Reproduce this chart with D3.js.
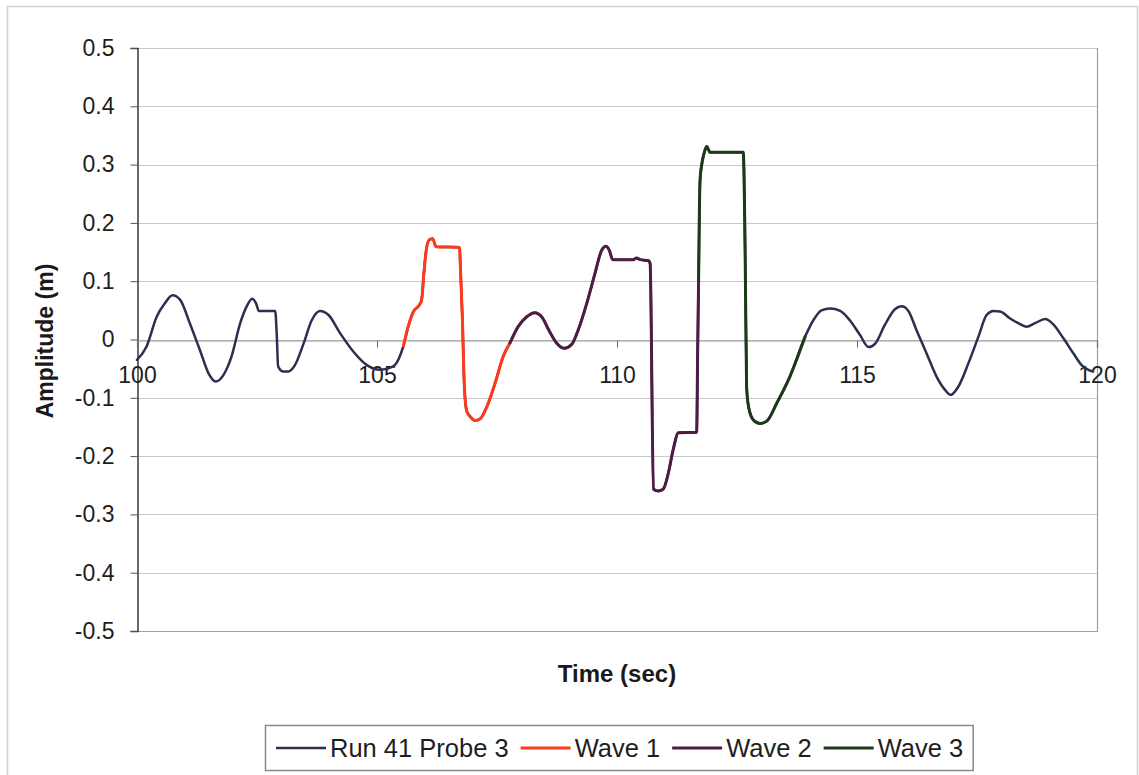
<!DOCTYPE html>
<html>
<head>
<meta charset="utf-8">
<script src="https://cdn.jsdelivr.net/npm/d3@7"></script>
<style>
  html, body { margin: 0; padding: 0; background: #fff; }
  svg { display: block; font-family: "Liberation Sans", Arial, sans-serif; }
</style>
</head>
<body>
<svg id="chart" width="1139" height="775"></svg>
<script>
// ---- Data ----
const probeTime = [100.00,100.20,100.41,100.58,100.74,100.90,101.10,101.31,101.49,101.64,101.80,101.97,102.15,102.28,102.40,102.48,102.54,102.88,102.91,102.94,103.05,103.15,103.29,103.47,103.64,103.81,103.99,104.23,104.51,104.79,105.06,105.34,105.55,
  105.65,105.76,105.88,105.93,105.97,106.02,106.09,106.16,106.23,106.72,106.74,106.78,106.82,106.87,106.94,107.04,107.15,107.29,107.46,107.63,107.77,
  107.94,108.12,108.29,108.43,108.60,108.74,108.90,109.06,109.19,109.37,109.54,109.68,109.77,109.84,109.91,110.34,110.41,110.48,110.66,110.69,110.76,110.86,110.96,111.07,111.17,111.28,111.66,111.68,111.70,
  111.73,111.78,111.83,111.87,111.94,112.63,112.67,112.70,112.74,112.84,112.98,113.12,113.33,113.60,113.92,
  114.09,114.26,114.44,114.65,114.85,115.06,115.24,115.38,115.58,115.79,115.93,116.07,116.24,116.45,116.66,116.83,116.95,117.11,117.32,117.53,117.70,117.84,117.98,118.19,118.36,118.53,118.71,118.92,119.09,119.30,119.51,119.68,119.82,119.92];
const probeAmp = [-0.035,-0.012,0.039,0.062,0.076,0.068,0.028,-0.018,-0.058,-0.072,-0.061,-0.029,0.028,0.056,0.070,0.062,0.049,0.049,0.011,-0.046,-0.055,-0.055,-0.044,-0.007,0.033,0.049,0.042,0.011,-0.021,-0.044,-0.052,-0.046,-0.011,
  0.022,0.048,0.059,0.068,0.107,0.150,0.171,0.173,0.159,0.158,0.119,0.033,-0.081,-0.123,-0.132,-0.139,-0.136,-0.115,-0.075,-0.029,-0.006,
  0.022,0.039,0.046,0.039,0.013,-0.006,-0.015,-0.008,0.016,0.062,0.113,0.153,0.160,0.153,0.137,0.137,0.140,0.137,0.135,0.130,-0.257,-0.260,-0.257,-0.229,-0.189,-0.160,-0.159,-0.024,0.102,
  0.273,0.307,0.324,0.331,0.321,0.321,0.147,-0.081,-0.115,-0.138,-0.144,-0.140,-0.109,-0.064,0.005,
  0.033,0.050,0.053,0.049,0.033,0.008,-0.013,-0.007,0.025,0.052,0.057,0.049,0.016,-0.024,-0.064,-0.086,-0.095,-0.081,-0.041,0.005,0.042,0.049,0.048,0.036,0.028,0.022,0.028,0.035,0.026,0.002,-0.024,-0.044,-0.052,-0.055];

const wave1Time = [105.55,105.65,105.76,105.88,105.93,105.97,106.02,106.09,106.16,106.23,106.72,106.74,106.78,106.82,106.87,106.94,107.04,107.15,107.29,107.46,107.63,107.77];
const wave1Amp  = [-0.011,0.022,0.048,0.059,0.068,0.107,0.150,0.171,0.173,0.159,0.158,0.119,0.033,-0.081,-0.123,-0.132,-0.139,-0.136,-0.115,-0.075,-0.029,-0.006];

const wave2Time = [107.77,107.94,108.12,108.29,108.43,108.60,108.74,108.90,109.06,109.19,109.37,109.54,109.68,109.77,109.84,109.91,110.34,110.41,110.48,110.66,110.69,110.76,110.86,110.96,111.07,111.17,111.28,111.66,111.68,111.70];
const wave2Amp  = [-0.006,0.022,0.039,0.046,0.039,0.013,-0.006,-0.015,-0.008,0.016,0.062,0.113,0.153,0.160,0.153,0.137,0.137,0.140,0.137,0.135,0.130,-0.257,-0.260,-0.257,-0.229,-0.189,-0.160,-0.159,-0.024,0.102];

const wave3Time = [111.70,111.73,111.78,111.83,111.87,111.94,112.63,112.67,112.70,112.74,112.84,112.98,113.12,113.33,113.60,113.92];
const wave3Amp  = [0.102,0.273,0.307,0.324,0.331,0.321,0.321,0.147,-0.081,-0.115,-0.138,-0.144,-0.140,-0.109,-0.064,0.005];

const seriesNames = ["Run 41 Probe 3", "Wave 1", "Wave 2", "Wave 3"];
const seriesColors = ["#2c2f4e", "#ff3a1c", "#4e1c44", "#1d3a18"];
const xTickValues = [100, 105, 110, 115, 120];
const xTickLabels = ["100", "105", "110", "115", "120"];
const yTickValues = [0.5, 0.4, 0.3, 0.2, 0.1, 0, -0.1, -0.2, -0.3, -0.4, -0.5];
const yTickLabels = ["0.5", "0.4", "0.3", "0.2", "0.1", "0", "-0.1", "-0.2", "-0.3", "-0.4", "-0.5"];
const xTitle = "Time (sec)";
const yTitle = "Amplitude (m)";

// ---- Layout ----
const svg = d3.select("#chart");
const plot = { left: 137, right: 1097, top: 48, bottom: 631 };

const x = d3.scaleLinear().domain([100, 120]).range([plot.left, plot.right]);
const y = d3.scaleLinear().domain([-0.5, 0.5]).range([plot.bottom, plot.top]);

// outer chart frame
svg.append("rect").attr("x", 7.5).attr("y", 6.5).attr("width", 1130).attr("height", 790)
  .attr("fill", "none").attr("stroke", "#d0d0d0").attr("stroke-width", 1.5);

// gridlines
svg.append("g").selectAll("line").data(yTickValues).join("line")
  .attr("x1", plot.left).attr("x2", plot.right)
  .attr("y1", d => Math.round(y(d)) + 0.5).attr("y2", d => Math.round(y(d)) + 0.5)
  .attr("stroke", "#c8c8c8").attr("stroke-width", 1);

// plot border (right & bottom)
svg.append("path")
  .attr("d", `M${plot.right + 0.5},${plot.top}V${plot.bottom + 0.5}H${plot.left}`)
  .attr("fill", "none").attr("stroke", "#a0a0a0").attr("stroke-width", 1.2);

// y axis
const yAxis = d3.axisLeft(y).tickValues(yTickValues).tickSize(7).tickPadding(16)
  .tickFormat((d, i) => yTickLabels[i]);
const gy = svg.append("g").attr("transform", `translate(${plot.left + 0.5},0)`).call(yAxis);
gy.select(".domain").attr("stroke", "#3a3a3a").attr("stroke-width", 1.5);
gy.selectAll(".tick line").attr("stroke", "#555");
gy.selectAll(".tick text").attr("font-size", 23).attr("fill", "#1e1e1e")
  .attr("font-family", "Liberation Sans, Arial, sans-serif");

// x axis at y = 0
const xAxis = d3.axisBottom(x).tickValues(xTickValues).tickSize(7).tickPadding(35)
  .tickFormat((d, i) => xTickLabels[i]);
const gx = svg.append("g").attr("transform", `translate(0,${Math.round(y(0)) + 0.5})`).call(xAxis);
gx.select(".domain").attr("stroke", "#9a9a9a").attr("stroke-width", 1.2);
gx.selectAll(".tick line").attr("stroke", "#666");
gx.selectAll(".tick text").attr("font-size", 23).attr("fill", "#1e1e1e")
  .attr("font-family", "Liberation Sans, Arial, sans-serif").attr("dy", "0");

// series lines
const line = d3.line().x(d => x(d[0])).y(d => y(d[1])).curve(d3.curveMonotoneX);
const zip = (a, b) => a.map((t, i) => [t, b[i]]);
const seriesData = [
  zip(probeTime, probeAmp),
  zip(wave1Time, wave1Amp),
  zip(wave2Time, wave2Amp),
  zip(wave3Time, wave3Amp)
];
const widths = [2.5, 3, 3, 3];
seriesData.forEach((d, i) => {
  svg.append("path").datum(d).attr("d", line)
    .attr("fill", "none").attr("stroke", seriesColors[i])
    .attr("stroke-width", widths[i]).attr("stroke-linejoin", "round").attr("stroke-linecap", "round");
});

// axis titles
svg.append("text").attr("x", 617).attr("y", 682).attr("text-anchor", "middle")
  .attr("font-size", 24).attr("font-weight", "bold").attr("fill", "#1a1a1a").text(xTitle);
svg.append("text").attr("transform", "translate(53,341) rotate(-90)").attr("text-anchor", "middle")
  .attr("font-size", 23).attr("font-weight", "bold").attr("fill", "#1a1a1a").text(yTitle);

// legend
const lg = svg.append("g");
const legendBox = lg.append("rect").attr("x", 265.5).attr("y", 725.5).attr("height", 45)
  .attr("fill", "#fff").attr("stroke", "#8a8a8a").attr("stroke-width", 1.5);
let cx = 276;
const ly = 748;
seriesNames.forEach((name, i) => {
  lg.append("line").attr("x1", cx).attr("x2", cx + 50).attr("y1", ly).attr("y2", ly)
    .attr("stroke", seriesColors[i]).attr("stroke-width", widths[i]);
  const t = lg.append("text").attr("x", cx + 54).attr("y", ly + 9)
    .attr("font-size", 25.5).attr("fill", "#1e1e1e").text(name);
  cx += 54 + t.node().getComputedTextLength() + 12;
});
legendBox.attr("width", cx - 265.5 - 2);
</script>
</body>
</html>
